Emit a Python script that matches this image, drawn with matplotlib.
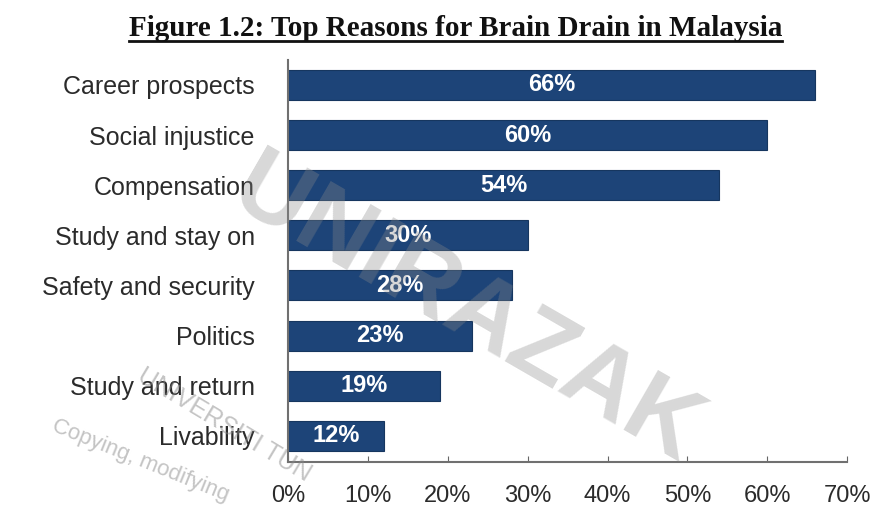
import matplotlib
matplotlib.use("Agg")
import matplotlib.pyplot as plt
from matplotlib.lines import Line2D

# data
reasons = ["Career prospects", "Social injustice", "Compensation", "Study and stay on",
           "Safety and security", "Politics", "Study and return", "Livability"]
shares = [66, 60, 54, 30, 28, 23, 19, 12]
xticks = [0, 10, 20, 30, 40, 50, 60, 70]

title = "Figure 1.2: Top Reasons for Brain Drain in Malaysia"
bar_color = "#1d4478"

plt.rcParams['font.family'] = ['Liberation Sans', 'DejaVu Sans']

fig = plt.figure(figsize=(8.78, 5.12), dpi=100)
ax = fig.add_axes([0.328, 0.098, 0.637, 0.785])

ypos = list(range(len(reasons)))
ax.barh(ypos, shares, height=0.6, color=bar_color, edgecolor="#16365f", linewidth=0.8)
for y, v in zip(ypos, shares):
    ax.text(v / 2, y, f"{v}%", ha="center", va="center", color="white",
            fontsize=17, fontweight="bold")

ax.set_xlim(0, 70)
ax.set_ylim(7.52, -0.5)
ax.set_yticks(ypos)
ax.set_yticklabels(reasons, fontsize=18, color="#2b2b2b")
ax.set_xticks(xticks)
ax.set_xticklabels([f"{t}%" for t in xticks], fontsize=17, color="#2b2b2b")
ax.tick_params(axis="y", length=0, pad=24)
ax.tick_params(axis="x", direction="in", length=4, color="#666666", pad=17)
for s in ["top", "right"]:
    ax.spines[s].set_visible(False)
for s in ["left", "bottom"]:
    ax.spines[s].set_color("#707070")
    ax.spines[s].set_linewidth(1.5)

# underlined serif title
t = fig.text(0.519, 0.945, title, ha="center", va="center", fontsize=21,
             fontweight="bold", family=["Liberation Serif", "DejaVu Serif"], color="#111111")
fig.canvas.draw()
bb = t.get_window_extent().transformed(fig.transFigure.inverted())
fig.add_artist(Line2D([bb.x0, bb.x1], [bb.y0 + 0.002, bb.y0 + 0.002],
                      transform=fig.transFigure, color="#111111", linewidth=2))

# faint watermark laid over the chart, as in the scan
wm_col = "#8a8a8a"
fig.text(0.53, 0.39, "UNIRAZAK", fontsize=72, rotation=-30, color=wm_col, alpha=0.33,
         ha="center", va="center", fontweight="bold", zorder=10)
fig.text(0.255, 0.17, "UNIVERSITI TUN", fontsize=18, rotation=-31, color=wm_col,
         alpha=0.5, ha="center", va="center", zorder=10)
fig.text(0.16, 0.1, "Copying, modifying", fontsize=16, rotation=-22, color=wm_col,
         alpha=0.5, ha="center", va="center", zorder=10)

fig.savefig("out.png", dpi=100, facecolor="white")
